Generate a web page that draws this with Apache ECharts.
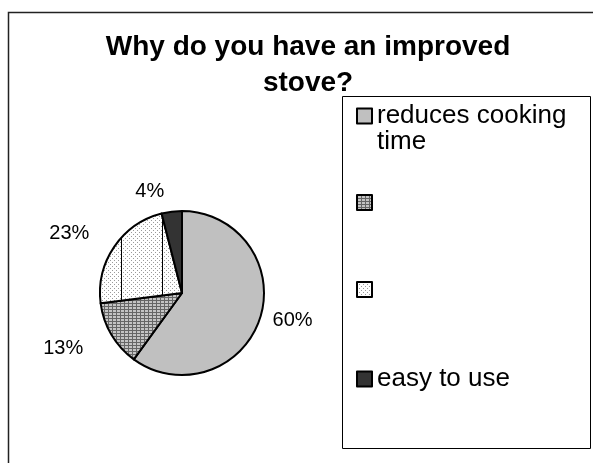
<!DOCTYPE html>
<html>
<head>
<meta charset="utf-8">
<script src="https://cdn.jsdelivr.net/npm/echarts@6/dist/echarts.min.js"></script>
<style>
  html, body { margin: 0; padding: 0; background: #fff; }
  #chart { width: 593px; height: 463px; }
</style>
</head>
<body>
<div id="chart"></div>
<script>
// data
const categories = ['reduces cooking time', ' ', '  ', 'easy to use']
// leading empty line keeps the first line level with the legend square
const legendLabels = ['\nreduces cooking\ntime', '', '', 'easy to use']
const shares = [60, 13, 23, 4]
const labelPull = [8, 27, 24, 20]

// fill patterns like the old office chart
const makeTile = (w, h, draw) => {
  const c = document.createElement('canvas')
  c.width = w
  c.height = h
  draw(c.getContext('2d'))
  return c
}

const gridTile = makeTile(4, 3, (ctx) => {
  ctx.fillStyle = '#c4c4c4'
  ctx.fillRect(0, 0, 4, 3)
  ctx.fillStyle = '#666'
  ctx.fillRect(0, 0, 4, 1)
  ctx.fillRect(0, 0, 1, 3)
})

const dotTile = (withLines) => makeTile(41, 4, (ctx) => {
  ctx.fillStyle = '#fff'
  ctx.fillRect(0, 0, 41, 4)
  ctx.fillStyle = '#9a9a9a'
  for (let x = 0; x < 40; x += 4) {
    ctx.fillRect(x, 0, 1, 1)
    ctx.fillRect(x + 2, 2, 1, 1)
  }
  if (withLines) {
    ctx.fillStyle = '#000'
    ctx.fillRect(39, 0, 1, 4)
  }
})

const fills = [
  '#c0c0c0',
  { image: gridTile, repeat: 'repeat' },
  { image: dotTile(true), repeat: 'repeat' },
  '#333333'
]
const legendFills = [fills[0], fills[1], { image: dotTile(false), repeat: 'repeat' }, fills[3]]

const font = 'Liberation Sans, Arial, sans-serif'

// one legend per entry so each row sits where the original puts it
const legendRows = [77, 194, 281, 366]
const legends = categories.map((name, i) => ({
  orient: 'vertical',
  left: 356,
  top: legendRows[i],
  padding: 0,
  selectedMode: false,
  icon: 'rect',
  itemWidth: 15,
  itemHeight: 15,
  itemStyle: { borderColor: '#000', borderWidth: 2 },
  data: [{ name, itemStyle: { color: legendFills[i] } }],
  formatter: () => legendLabels[i],
  textStyle: {
    fontFamily: font,
    fontSize: 26,
    lineHeight: 26,
    color: '#000'
  }
}))

const chart = echarts.init(document.getElementById('chart'))

chart.setOption({
  animation: false,
  title: {
    text: 'Why do you have an improved\nstove?',
    left: 303,
    top: 24,
    textAlign: 'center',
    textStyle: {
      fontFamily: font,
      fontSize: 28,
      fontWeight: 'bold',
      lineHeight: 36,
      color: '#000'
    }
  },
  legend: legends,
  graphic: [
    {
      type: 'rect',
      shape: { x: 8.5, y: 12.5, width: 700, height: 600 },
      style: { fill: null, stroke: '#222', lineWidth: 1.5 },
      silent: true
    },
    {
      type: 'rect',
      shape: { x: 342.5, y: 96.5, width: 248, height: 352 },
      style: { fill: null, stroke: '#000', lineWidth: 1 },
      silent: true
    }
  ],
  series: [
    {
      type: 'pie',
      center: [182, 293],
      radius: 82,
      startAngle: 90,
      clockwise: true,
      itemStyle: { borderColor: '#000', borderWidth: 2 },
      label: {
        show: true,
        position: 'outside',
        formatter: '{c}%',
        fontFamily: font,
        fontSize: 20,
        color: '#000'
      },
      labelLine: { show: false, length2: 0 },
      emphasis: { disabled: true },
      data: categories.map((name, i) => ({
        name,
        value: shares[i],
        itemStyle: { color: fills[i] },
        labelLine: { show: false, length: labelPull[i], length2: 0 }
      }))
    }
  ]
})
</script>
</body>
</html>
